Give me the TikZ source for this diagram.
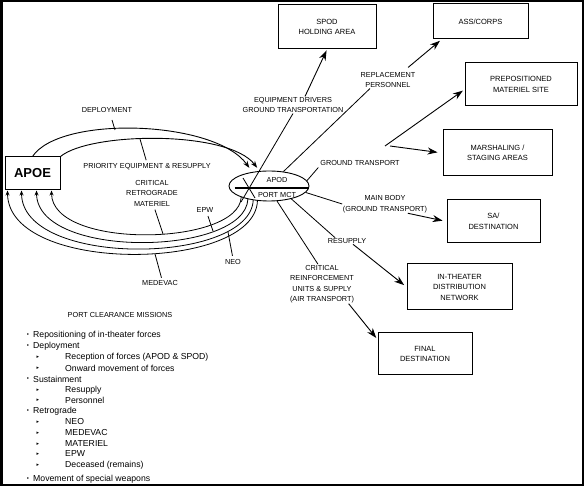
\documentclass[tikz,border=0pt]{standalone}
\usepackage{fontspec}
\setmainfont{Liberation Sans}
\newfontfamily\symfont{DejaVu Sans}
\usetikzlibrary{shapes.geometric,arrows.meta,calc}

\tikzset{
  box/.style={draw,line width=1pt,align=center,inner sep=0pt,font=\fontsize{7.5}{10.5}\selectfont},
  lbl/.style={align=center,inner sep=0.5pt,font=\fontsize{7.3}{10.5}\selectfont},
  item/.style={anchor=west,inner sep=0pt,font=\fontsize{8.7}{10}\selectfont},
  flow/.style={line width=0.9pt,-{Stealth[length=10pt,width=7pt]}},
  into/.style={line width=0.9pt,-{Stealth[length=7pt,width=5pt]}},
  back/.style={line width=0.8pt,-{Stealth[length=5pt,width=4pt]}},
  lead/.style={line width=0.8pt}
}

\begin{document}
\begin{tikzpicture}[x=1pt,y=-1pt]
  \useasboundingbox (0,0) rectangle (584,486);
  \draw[line width=2.5pt] (1.25,1.25) rectangle (582.75,484.75);

  % ports
  \node[draw,line width=1pt,minimum width=55pt,minimum height=33pt,inner sep=0pt,font=\fontsize{13}{13}\selectfont\bfseries] (apoe) at (32.5,173.5) {APOE};
  \node[draw,ellipse,line width=0.9pt,minimum width=80pt,minimum height=30pt,inner sep=0pt] (apod) at (269,186) {};
  \draw[line width=1.6pt] ([xshift=6pt,yshift=-2pt]apod.west) -- ([yshift=-2pt]apod.east);
  \node[lbl] (apodtxt) at (277,180) {APOD};
  \node[lbl] (mcttxt) at (277,195) {PORT MCT};

  % boxes
  \node[box,minimum width=98pt,minimum height=44pt] (spod) at (327,27) {SPOD\\HOLDING AREA};
  \node[box,minimum width=95pt,minimum height=35pt] (ass) at (480.5,21.5) {ASS/CORPS};
  \node[box,minimum width=112pt,minimum height=43pt] (prepos) at (521,84.5) {PREPOSITIONED\\MATERIEL SITE};
  \node[box,minimum width=109pt,minimum height=46pt] (marsh) at (497.5,153) {MARSHALING /\\STAGING AREAS};
  \node[box,minimum width=93pt,minimum height=43pt] (sai) at (493.5,221.5) {SA/\\DESTINATION};
  \node[box,minimum width=105pt,minimum height=46pt] (inth) at (459.5,287) {IN-THEATER\\DISTRIBUTION\\NETWORK};
  \node[box,minimum width=94pt,minimum height=42pt] (final) at (425,354) {FINAL\\DESTINATION};

  % labels
  \node[lbl] (deploy) at (107,110) {DEPLOYMENT};
  \node[lbl] (prio) at (147,167) {PRIORITY EQUIPMENT \& RESUPPLY};
  \node[lbl] (retro) at (152,193) {CRITICAL\\RETROGRADE\\MATERIEL};
  \node[lbl] (epw) at (205,210) {EPW};
  \node[lbl] (neo) at (233,262) {NEO};
  \node[lbl] (medevac) at (160,283) {MEDEVAC};
  \node[lbl] (eqdriv) at (293,105) {EQUIPMENT DRIVERS\\GROUND TRANSPORTATION};
  \node[lbl] (repl) at (388,80) {REPLACEMENT\\PERSONNEL};
  \node[lbl] (ground) at (360,163) {GROUND TRANSPORT};
  \node[lbl] (mainbody) at (385,204) {MAIN BODY\\(GROUND TRANSPORT)};
  \node[lbl] (resup) at (347,241) {RESUPPLY};
  \node[lbl] (critreinf) at (322,284) {CRITICAL\\REINFORCEMENT\\UNITS \& SUPPLY\\(AIR TRANSPORT)};

  % arcs APOE -> APOD
  \draw[into,shorten >=5pt] (apoe.north) .. controls (60,115) and (215,120) .. (apod.140);
  \draw[into,shorten >=4pt] (apoe.north east) .. controls (90,132) and (228,130) .. (apod.122);
  % arcs APOD -> APOE
  \draw[back] (apod.-128) .. controls (255,272) and (8,275) .. ([xshift=3pt]apoe.south west);
  \draw[back] (apod.-138) .. controls (250,265) and (22,268) .. ([xshift=17pt]apoe.south west);
  \draw[back] (apod.-148) .. controls (245,256) and (37,260) .. ([xshift=32pt]apoe.south west);
  \draw[back] (apod.-158) .. controls (239,246) and (52,250) .. ([xshift=47pt]apoe.south west);

  % leaders
  \coordinate (dep) at (115,130);
  \coordinate (pri) at (140,139);
  \coordinate (ret) at (163,234);
  \coordinate (ep) at (213,231);
  \coordinate (ne) at (228,232);
  \coordinate (med) at (155,254);
  \draw[lead,shorten <=7pt] ([xshift=3pt]deploy.south) -- (dep);
  \draw[lead,shorten <=3pt] (prio.north) -- (pri);
  \draw[lead,shorten <=3pt] ([xshift=2pt]retro.south) -- (ret);
  \draw[lead,shorten <=3pt] ([xshift=2pt]epw.south) -- (ep);
  \draw[lead,shorten <=3pt] (neo.north) -- (ne);
  \draw[lead,shorten <=2pt] ([xshift=2pt]medevac.north) -- (med);

  % out of APOD
  \coordinate (xa) at (241,202);
  \draw[lead] (243,178) -- (255,198);
  \draw[lead] (xa) -- (eqdriv.south);
  \draw[flow,shorten >=1pt] ([xshift=12pt]eqdriv.north) -- (spod.south);
  \draw[lead] (apod.45) -- ([xshift=-18pt]repl.south);
  \draw[flow,shorten >=2pt] ([xshift=-8pt,yshift=4pt]repl.north east) -- ([xshift=9pt]ass.south west);
  \coordinate (gsplit) at (385,146);
  \draw[lead,shorten >=2pt] (apod.8) -- ([yshift=-3pt]ground.west);
  \draw[flow,shorten >=2pt] (gsplit) -- ([yshift=-5pt]prepos.west);
  \draw[flow,shorten >=5pt] ([xshift=5pt]gsplit) -- (marsh.west);
  \draw[lead] (apod.-10) -- (mainbody.west);
  \draw[flow,shorten >=4pt] ([xshift=-20pt]mainbody.south east) -- (sai.west);
  \draw[lead] (apod.-30) -- ([xshift=8pt]resup.north west);
  \draw[flow,shorten >=3pt] ([xshift=6pt]resup.south) -- (inth.west);
  \draw[lead] (apod.-62) -- ([xshift=-4pt]critreinf.north);
  \draw[flow,shorten >=2pt] ([xshift=-6pt]critreinf.south east) -- ([yshift=-7pt]final.north west);

  % missions
  \node[font=\fontsize{7.3}{8}\selectfont,inner sep=0pt] (missions) at (120,315) {PORT CLEARANCE MISSIONS};
  \foreach \y/\txt in {335/{Repositioning of in-theater forces},346/Deployment,379/Sustainment,411/Retrograde,479/{Movement of special weapons}}{
    \node[item] (top\y) at (33,\y) {\txt};
    \node[inner sep=0pt,font=\fontsize{6}{6}\selectfont] (dot\y) at (28,\y) {•};
  }
  \foreach \y/\txt in {357/{Reception of forces (APOD \& SPOD)},368/{Onward movement of forces},390/Resupply,400/Personnel,422/NEO,433/MEDEVAC,444/MATERIEL,454/EPW,465/{Deceased (remains)}}{
    \node[item] (sub\y) at (65,\y) {\txt};
    \node[inner sep=0pt,font=\symfont\fontsize{5}{5}\selectfont] (tri\y) at (38,\y) {▸};
  }
\end{tikzpicture}
\end{document}
